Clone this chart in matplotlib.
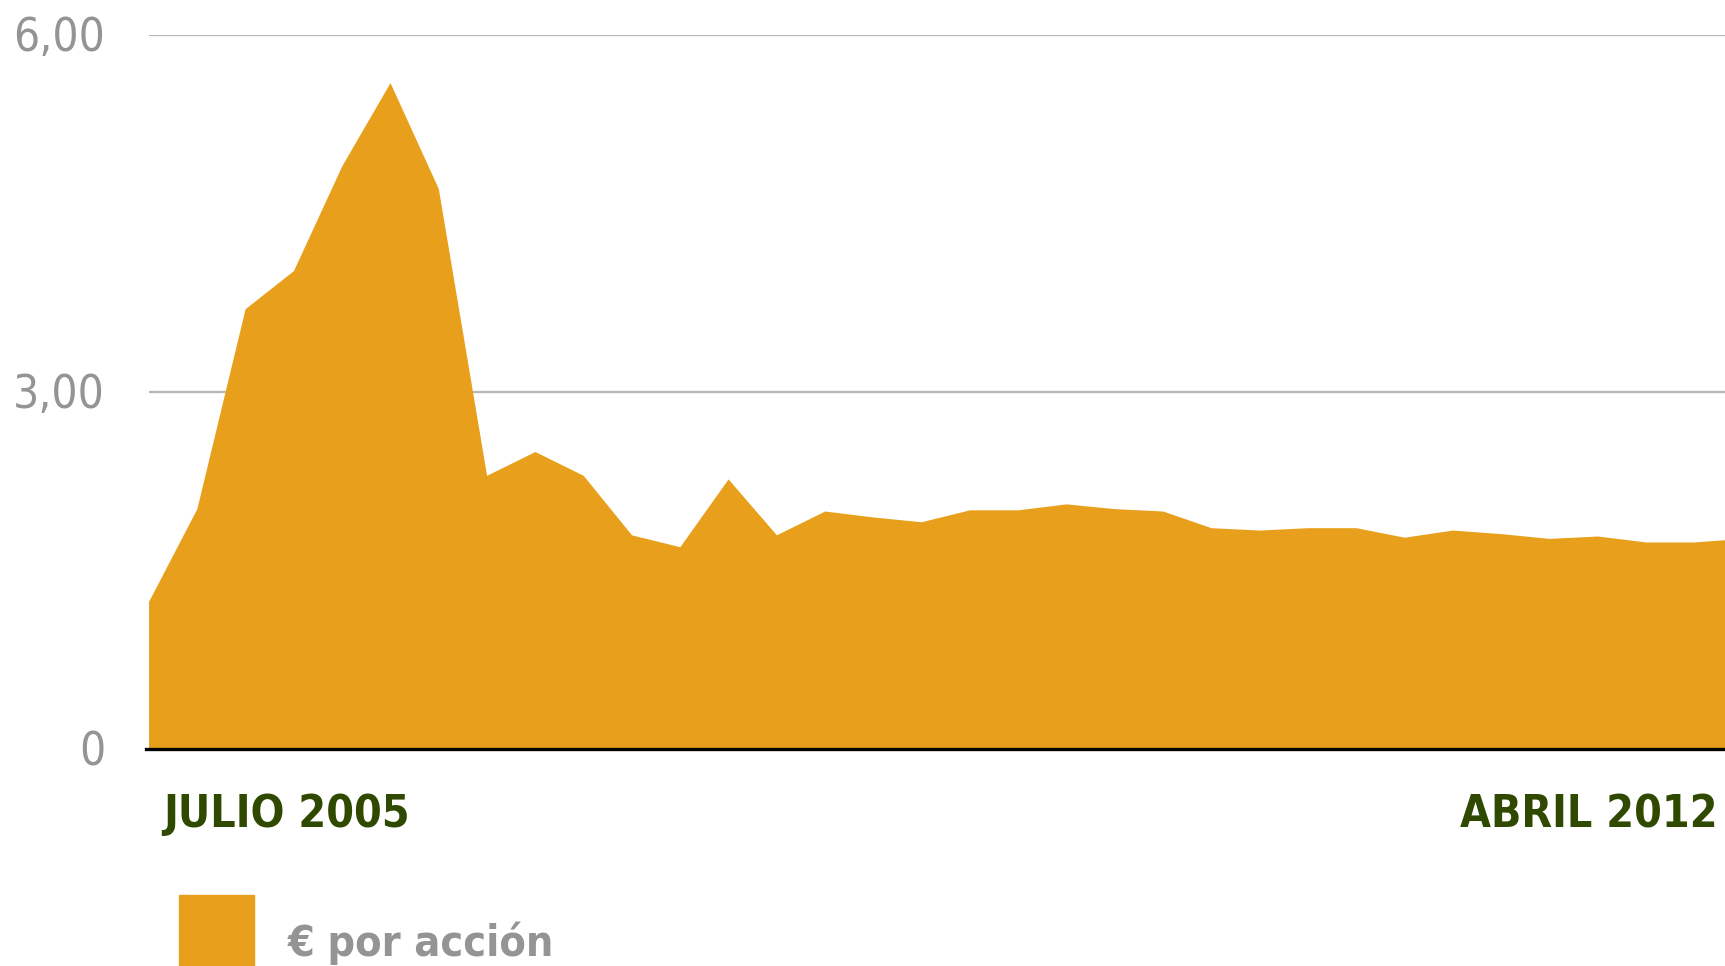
import numpy as np
import matplotlib.pyplot as plt
from matplotlib.patches import Rectangle

# valor por acción, un punto por periodo (jul 2005 -> abr 2012)
valores = [1.24, 2.02, 3.70, 4.02, 4.90, 5.60, 4.71, 2.30, 2.50, 2.30,
           1.80, 1.70, 2.27, 1.80, 2.00, 1.95, 1.91, 2.01, 2.01, 2.06,
           2.02, 2.00, 1.86, 1.84, 1.86, 1.86, 1.78, 1.84, 1.81, 1.77,
           1.79, 1.74, 1.74, 1.77]
ticks_y = [0, 3, 6]
etiquetas_y = ["0", "3,00", "6,00"]
fecha_inicio = "JULIO 2005"
fecha_fin = "ABRIL 2012"
serie = "€ por acción"

naranja = "#E8A01C"
gris = "#949494"
verde = "#2F4A00"
fuente = ["DejaVu Sans"]

x = np.arange(len(valores))

fig = plt.figure(figsize=(17.25, 9.66), dpi=100)
ax = fig.add_axes([0.0861, 0.2246, 0.9139, 0.7392])

for t in ticks_y[1:]:
    ax.axhline(t, color="#B8B8B8", linewidth=1.7, zorder=1)
ax.fill_between(x, 0, valores, color=naranja, linewidth=0, zorder=2)

ax.set_xlim(0, 32.64)
ax.set_ylim(0, 6)
for s in ax.spines.values():
    s.set_visible(False)
ax.set_xticks([])
ax.set_yticks([])

# línea base
ax.plot([-0.06, 32.64], [0, 0], color="black", linewidth=2.4, clip_on=False, zorder=3)

for t, lab in zip(ticks_y, etiquetas_y):
    ax.text(-0.9, t - 0.03, lab, ha="right", va="center", fontsize=33, color=gris,
            family=fuente, fontstretch="condensed")

fig.text(163 / 1725, 1 - 815 / 966, fecha_inicio, ha="left", va="center",
         fontsize=32, fontweight="bold", color=verde, family=fuente,
         fontstretch="condensed")
fig.text(1718 / 1725, 1 - 815 / 966, fecha_fin, ha="right", va="center",
         fontsize=32, fontweight="bold", color=verde, family=fuente,
         fontstretch="condensed")

# leyenda
fig.patches.append(Rectangle((179 / 1725, 0), 75 / 1725, 71 / 966,
                             transform=fig.transFigure, color=naranja))
fig.text(288 / 1725, 1 - 943 / 966, serie, ha="left", va="center",
         fontsize=31, fontweight="bold", color=gris, family=fuente,
         fontstretch="condensed")

fig.savefig("out.png", dpi=100)
